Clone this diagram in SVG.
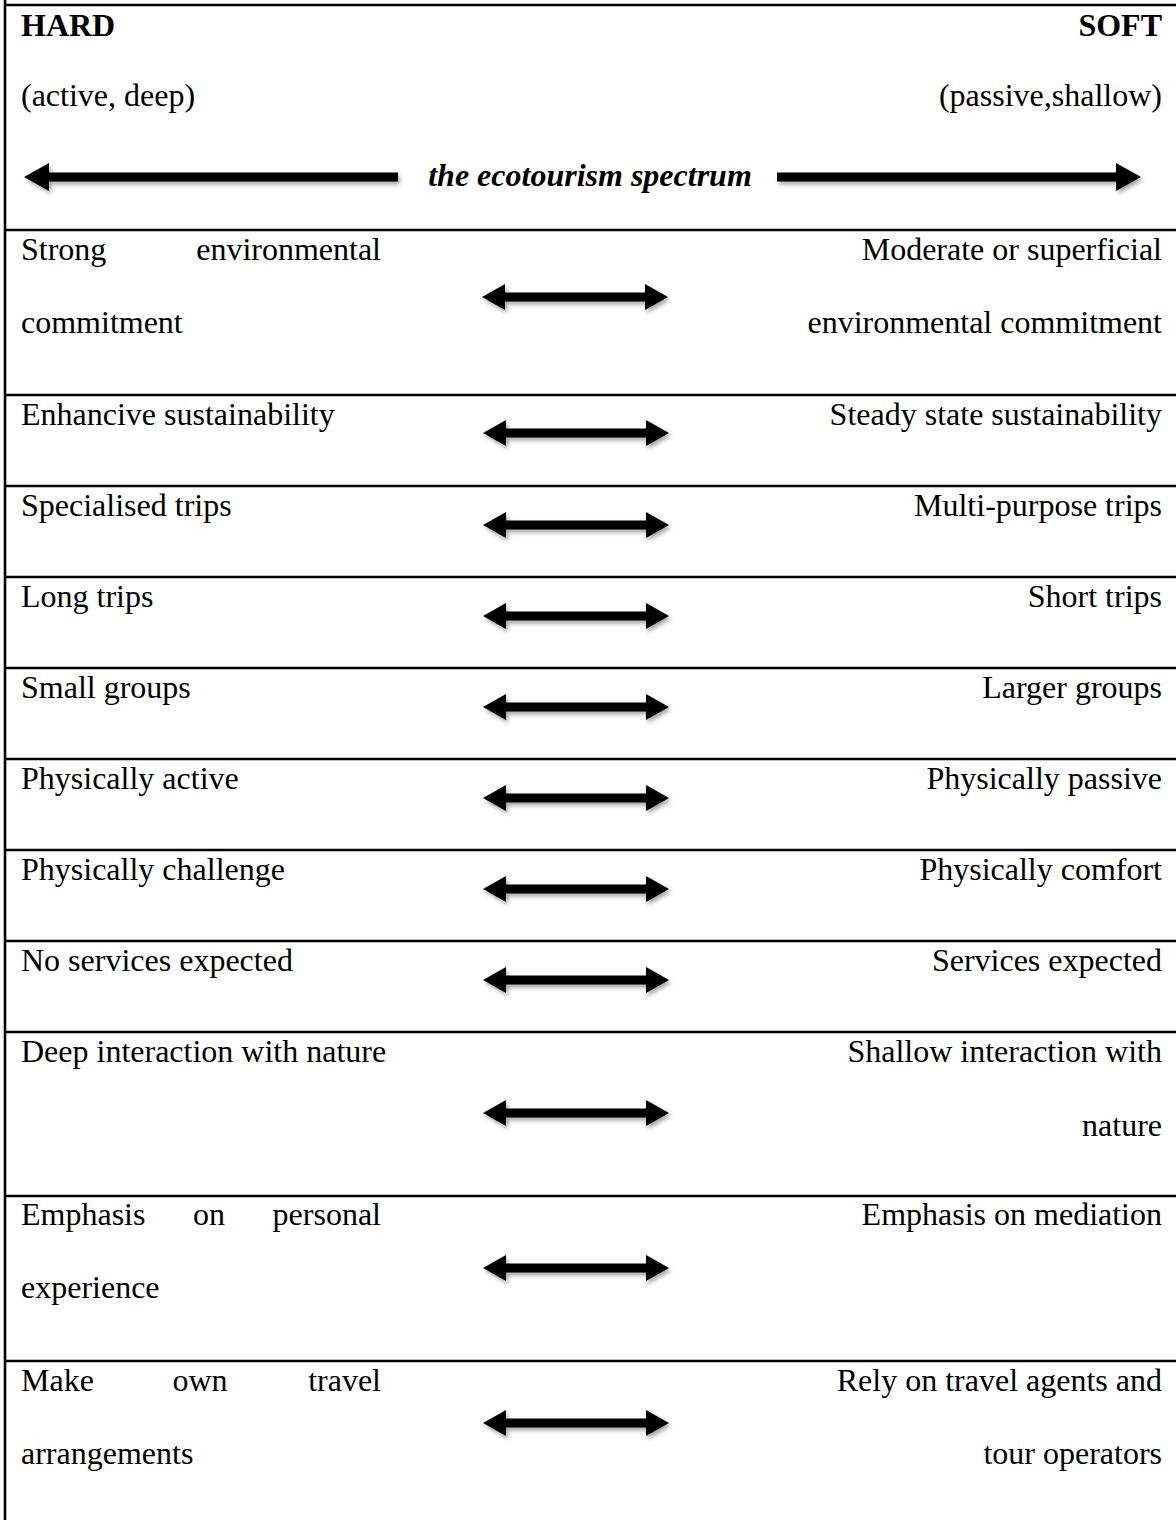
<svg xmlns="http://www.w3.org/2000/svg" xmlns:xlink="http://www.w3.org/1999/xlink" width="1176" height="1520" viewBox="0 0 1176 1520">
<style>
  text { font-family: "Liberation Serif", "Times New Roman", serif; font-size: 32px; fill: #000; }
  .b { font-weight: bold; }
  .bi { font-weight: bold; font-style: italic; }
  .r { text-anchor: end; }
  .m { text-anchor: middle; }
  .rule { stroke: #000; stroke-width: 2.6; fill: none; }
  .arr { fill: #000; filter: url(#sh); }
</style>
<defs>
  <filter id="sh" x="-20%" y="-80%" width="140%" height="260%">
    <feDropShadow dx="2" dy="3" stdDeviation="2" flood-color="#000" flood-opacity="0.35"/>
  </filter>
  <path id="dbl" d="M-93,0 L-70,-13 L-70,-4.5 L70,-4.5 L70,-13 L93,0 L70,13 L70,4.5 L-70,4.5 L-70,13 Z"/>
</defs>

<g id="table-lines">
  <line class="rule" x1="5" y1="0" x2="5" y2="1520"/>
  <line class="rule" x1="4" y1="5" x2="1176" y2="5"/>
  <line class="rule" x1="4" y1="230" x2="1176" y2="230"/>
  <line class="rule" x1="4" y1="395" x2="1176" y2="395"/>
  <line class="rule" x1="4" y1="486" x2="1176" y2="486"/>
  <line class="rule" x1="4" y1="577" x2="1176" y2="577"/>
  <line class="rule" x1="4" y1="668" x2="1176" y2="668"/>
  <line class="rule" x1="4" y1="759" x2="1176" y2="759"/>
  <line class="rule" x1="4" y1="850" x2="1176" y2="850"/>
  <line class="rule" x1="4" y1="941" x2="1176" y2="941"/>
  <line class="rule" x1="4" y1="1032" x2="1176" y2="1032"/>
  <line class="rule" x1="4" y1="1196" x2="1176" y2="1196"/>
  <line class="rule" x1="4" y1="1361" x2="1176" y2="1361"/>
</g>

<g id="header">
  <text class="b" x="21" y="36">HARD</text>
  <text class="b r" x="1162" y="36">SOFT</text>
  <text x="21" y="106">(active, deep)</text>
  <text class="r" x="1162" y="106">(passive,shallow)</text>
  <text class="bi m" x="590" y="186">the ecotourism spectrum</text>
</g>

<g id="connectors">
  <path class="arr" d="M24,177 L49,163 L49,172.5 L398,172.5 L398,181.5 L49,181.5 L49,191 Z"/>
  <path class="arr" d="M1141,177 L1116,163 L1116,172.5 L777,172.5 L777,181.5 L1116,181.5 L1116,191 Z"/>
  <use class="arr" xlink:href="#dbl" href="#dbl" x="575" y="297"/>
  <use class="arr" xlink:href="#dbl" href="#dbl" x="576" y="433"/>
  <use class="arr" xlink:href="#dbl" href="#dbl" x="576" y="525"/>
  <use class="arr" xlink:href="#dbl" href="#dbl" x="576" y="616"/>
  <use class="arr" xlink:href="#dbl" href="#dbl" x="576" y="707"/>
  <use class="arr" xlink:href="#dbl" href="#dbl" x="576" y="798"/>
  <use class="arr" xlink:href="#dbl" href="#dbl" x="576" y="889"/>
  <use class="arr" xlink:href="#dbl" href="#dbl" x="576" y="980"/>
  <use class="arr" xlink:href="#dbl" href="#dbl" x="576" y="1113"/>
  <use class="arr" xlink:href="#dbl" href="#dbl" x="576" y="1268"/>
  <use class="arr" xlink:href="#dbl" href="#dbl" x="576" y="1423"/>
</g>

<g id="row1">
  <text x="21" y="260">Strong</text>
  <text class="r" x="381" y="260">environmental</text>
  <text x="21" y="333">commitment</text>
  <text class="r" x="1162" y="260">Moderate or superficial</text>
  <text class="r" x="1162" y="333">environmental commitment</text>
</g>
<g id="row2">
  <text x="21" y="425">Enhancive sustainability</text>
  <text class="r" x="1162" y="425">Steady state sustainability</text>
</g>
<g id="row3">
  <text x="21" y="516">Specialised trips</text>
  <text class="r" x="1162" y="516">Multi-purpose trips</text>
</g>
<g id="row4">
  <text x="21" y="607">Long trips</text>
  <text class="r" x="1162" y="607">Short trips</text>
</g>
<g id="row5">
  <text x="21" y="698">Small groups</text>
  <text class="r" x="1162" y="698">Larger groups</text>
</g>
<g id="row6">
  <text x="21" y="789">Physically active</text>
  <text class="r" x="1162" y="789">Physically passive</text>
</g>
<g id="row7">
  <text x="21" y="880">Physically challenge</text>
  <text class="r" x="1162" y="880">Physically comfort</text>
</g>
<g id="row8">
  <text x="21" y="971">No services expected</text>
  <text class="r" x="1162" y="971">Services expected</text>
</g>
<g id="row9">
  <text x="21" y="1062">Deep interaction with nature</text>
  <text class="r" x="1162" y="1062">Shallow interaction with</text>
  <text class="r" x="1162" y="1136">nature</text>
</g>
<g id="row10">
  <text x="21" y="1225">Emphasis</text>
  <text class="m" x="209" y="1225">on</text>
  <text class="r" x="381" y="1225">personal</text>
  <text x="21" y="1298">experience</text>
  <text class="r" x="1162" y="1225">Emphasis on mediation</text>
</g>
<g id="row11">
  <text x="21" y="1391">Make</text>
  <text class="m" x="200" y="1391">own</text>
  <text class="r" x="381" y="1391">travel</text>
  <text x="21" y="1464">arrangements</text>
  <text class="r" x="1162" y="1391">Rely on travel agents and</text>
  <text class="r" x="1162" y="1464">tour operators</text>
</g>
</svg>
